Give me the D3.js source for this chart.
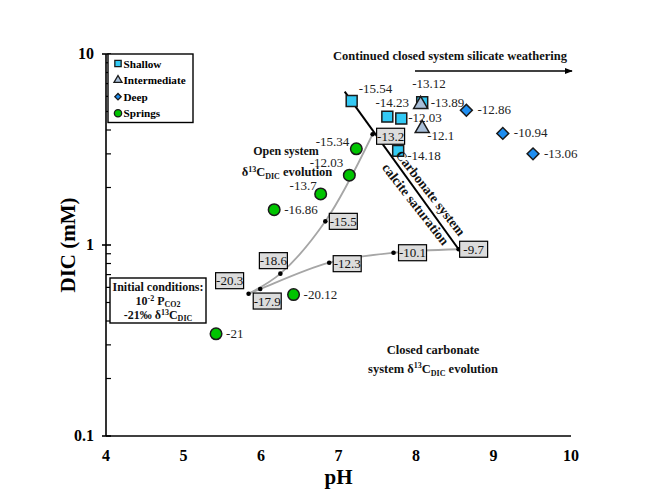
<!DOCTYPE html>
<html>
<head>
<meta charset="utf-8">
<script src="https://cdn.jsdelivr.net/npm/d3@7"></script>
<style>
  body { margin: 0; background: #fff; }
  svg { display: block; font-family: 'Liberation Serif', 'Times New Roman', serif; }
</style>
</head>
<body>
<div id="chart"></div>
<script>
const width = 646;
const height = 490;

// measured samples: pH, DIC (mM), d13C label
const shallow = [
  { ph: 7.17, dic: 5.67, label: '-15.54' },
  { ph: 7.63, dic: 4.70, label: '-14.23' },
  { ph: 7.81, dic: 4.59, label: '-12.03' },
  { ph: 8.08, dic: 5.59, label: '-13.12' },
  { ph: 7.77, dic: 3.11, label: '-14.18' },
];
const intermediate = [
  { ph: 8.06, dic: 5.45, label: '-13.89' },
  { ph: 8.08, dic: 4.08, label: '-12.1' },
];
const deep = [
  { ph: 8.65, dic: 5.07, label: '-12.86' },
  { ph: 9.12, dic: 3.84, label: '-10.94' },
  { ph: 9.51, dic: 3.0, label: '-13.06' },
];
const springs = [
  { ph: 7.23, dic: 3.19, label: '-15.34' },
  { ph: 7.14, dic: 2.32, label: '-12.03' },
  { ph: 6.77, dic: 1.85, label: '-13.7' },
  { ph: 6.17, dic: 1.53, label: '-16.86' },
  { ph: 6.42, dic: 0.55, label: '-20.12' },
  { ph: 5.42, dic: 0.343, label: '-21' },
];

// model paths
const openPath = [
  { ph: 5.84, dic: 0.556, label: '-20.3' },
  { ph: 6.25, dic: 0.708, label: '-18.6' },
  { ph: 6.83, dic: 1.33, label: '-15.5' },
  { ph: 7.44, dic: 3.80, label: '-13.2' },
];
const closedPath = [
  { ph: 5.84, dic: 0.556, label: null },
  { ph: 5.99, dic: 0.588, label: '-17.9' },
  { ph: 6.88, dic: 0.808, label: '-12.3' },
  { ph: 7.71, dic: 0.911, label: '-10.1' },
  { ph: 8.55, dic: 0.95, label: '-9.7' },
];
const calciteLine = [
  { ph: 7.08, dic: 6.35 },
  { ph: 8.55, dic: 0.95 },
];

const xTicks = [4, 5, 6, 7, 8, 9, 10];
const yTicks = [0.1, 1, 10];

// label placement (dx, dy from point, anchor)
const pointLabelPos = {
  shallow: [[7, -8, 'start'], [5, -10, 'middle'], [7, 3, 'start'], [-10, -14, 'start'], [9, 9, 'start']],
  intermediate: [[10, 3, 'start'], [5, 12, 'start']],
  deep: [[11, 4, 'start'], [11, 4, 'start'], [11, 4, 'start']],
  springs: [[-7, -3, 'end'], [-6, -8, 'end'], [-4, -4, 'end'], [10, 4, 'start'], [10, 4, 'start'], [10, 4, 'start']],
};
const boxPos = {
  '-20.3': [-19, -13], '-18.6': [-7, -13], '-15.5': [18, 0], '-13.2': [18, 2],
  '-17.9': [7, 12], '-12.3': [18, 1], '-10.1': [19, 0], '-9.7': [15, 0],
};

const x = d3.scaleLinear().domain([4, 10]).range([106, 571]);
const y = d3.scaleLog().domain([0.1, 10]).range([436, 54]);

const svg = d3.select('#chart').append('svg')
  .attr('width', width).attr('height', height);

// axes
const axisG = svg.append('g').attr('stroke', '#000').attr('stroke-width', 1.6);
axisG.append('line').attr('x1', x(4)).attr('x2', x(4)).attr('y1', y(10)).attr('y2', y(0.1));
axisG.append('line').attr('x1', x(4)).attr('x2', x(10)).attr('y1', y(0.1)).attr('y2', y(0.1));

const minor = [];
[0.1, 1].forEach((d) => { for (let k = 2; k <= 9; k++) minor.push(d * k); });
axisG.selectAll('.minor').data(minor).join('line')
  .attr('x1', x(4)).attr('x2', x(4) + 5)
  .attr('y1', (d) => y(d)).attr('y2', (d) => y(d))
  .attr('stroke-width', 1.2);
axisG.selectAll('.major').data(yTicks).join('line')
  .attr('x1', x(4) - 4).attr('x2', x(4) + 5)
  .attr('y1', (d) => y(d)).attr('y2', (d) => y(d));

svg.append('g').selectAll('text').data(yTicks).join('text')
  .attr('x', 94).attr('y', (d) => y(d) + 5)
  .attr('text-anchor', 'end').attr('font-weight', 'bold').attr('font-size', 16)
  .text((d) => d);
svg.append('g').selectAll('text').data(xTicks).join('text')
  .attr('x', (d) => x(d)).attr('y', 461)
  .attr('text-anchor', 'middle').attr('font-weight', 'bold').attr('font-size', 16)
  .text((d) => d);

svg.append('text').attr('x', x(7)).attr('y', 484)
  .attr('text-anchor', 'middle').attr('font-weight', 'bold').attr('font-size', 21).text('pH');
svg.append('text').attr('transform', `translate(75,${y(1)}) rotate(-90)`)
  .attr('text-anchor', 'middle').attr('font-weight', 'bold').attr('font-size', 21).text('DIC (mM)');

// model curves
const line = d3.line().x((d) => x(d.ph)).y((d) => y(d.dic)).curve(d3.curveCatmullRom.alpha(0.5));
svg.append('path').datum(openPath).attr('d', line)
  .attr('fill', 'none').attr('stroke', '#a6a6a6').attr('stroke-width', 1.8);
svg.append('path').datum(closedPath).attr('d', line)
  .attr('fill', 'none').attr('stroke', '#a6a6a6').attr('stroke-width', 1.8);

svg.append('line')
  .attr('x1', x(calciteLine[0].ph)).attr('y1', y(calciteLine[0].dic))
  .attr('x2', x(calciteLine[1].ph)).attr('y2', y(calciteLine[1].dic))
  .attr('stroke', '#000').attr('stroke-width', 2);

const modelPts = openPath.concat(closedPath.filter((d) => d.label));
svg.append('g').selectAll('circle').data(modelPts).join('circle')
  .attr('cx', (d) => x(d.ph)).attr('cy', (d) => y(d.dic)).attr('r', 2.3).attr('fill', '#000');

const boxes = svg.append('g').selectAll('g').data(modelPts).join('g')
  .attr('transform', (d) => `translate(${x(d.ph) + boxPos[d.label][0]},${y(d.dic) + boxPos[d.label][1]})`);
boxes.append('rect').attr('x', -14).attr('y', -8).attr('width', 28).attr('height', 16)
  .attr('fill', '#dcdcdc').attr('stroke', '#000').attr('stroke-width', 1.2);
boxes.append('text').attr('text-anchor', 'middle').attr('y', 4.5)
  .attr('font-size', 13).attr('fill', '#111').text((d) => d.label);

// markers
const sym = {
  shallow: d3.symbol().type(d3.symbolSquare).size(120),
  intermediate: d3.symbol().type(d3.symbolTriangle).size(85),
  deep: d3.symbol().type(d3.symbolSquare).size(70),
  springs: d3.symbol().type(d3.symbolCircle).size(105),
};
const rot = { shallow: 0, intermediate: 0, deep: 45, springs: 0 };
const fills = { shallow: '#33c9f4', intermediate: '#a9bfd9', deep: '#1f8ef0', springs: '#00c400' };
const groups = { shallow, intermediate, deep, springs };

['springs', 'deep', 'shallow', 'intermediate'].forEach((key) => {
  const g = svg.append('g');
  g.selectAll('path').data(groups[key]).join('path')
    .attr('d', sym[key])
    .attr('transform', (d) => `translate(${x(d.ph)},${y(d.dic)}) rotate(${rot[key]})`)
    .attr('fill', fills[key]).attr('stroke', '#1a1a1a').attr('stroke-width', 1.5);
  g.selectAll('text').data(groups[key]).join('text')
    .attr('x', (d, i) => x(d.ph) + pointLabelPos[key][i][0])
    .attr('y', (d, i) => y(d.dic) + pointLabelPos[key][i][1])
    .attr('text-anchor', (d, i) => pointLabelPos[key][i][2])
    .attr('font-size', 13).attr('fill', '#222')
    .text((d) => d.label);
});

// legend
const legendItems = [
  { key: 'shallow', name: 'Shallow' },
  { key: 'intermediate', name: 'Intermediate' },
  { key: 'deep', name: 'Deep' },
  { key: 'springs', name: 'Springs' },
];
const legend = svg.append('g');
legend.append('rect').attr('x', 108).attr('y', 54).attr('width', 85).attr('height', 68.5)
  .attr('fill', '#fff').attr('stroke', '#000').attr('stroke-width', 1.4);
const legendSym = {
  shallow: d3.symbol().type(d3.symbolSquare).size(40),
  intermediate: d3.symbol().type(d3.symbolTriangle).size(28),
  deep: d3.symbol().type(d3.symbolSquare).size(20),
  springs: d3.symbol().type(d3.symbolCircle).size(42),
};
const li = legend.selectAll('g').data(legendItems).join('g')
  .attr('transform', (d, i) => `translate(118,${63.5 + i * 16.6})`);
li.append('path').attr('d', (d) => legendSym[d.key]())
  .attr('transform', (d) => `rotate(${rot[d.key]})`)
  .attr('fill', (d) => fills[d.key]).attr('stroke', '#1a1a1a').attr('stroke-width', 1.3);
li.append('text').attr('x', 5.5).attr('y', 4).attr('font-weight', 'bold').attr('font-size', 11.2)
  .text((d) => d.name);

// annotations
const ann = svg.append('g').attr('font-weight', 'bold').attr('font-size', 12.5).attr('fill', '#111');
ann.append('text').attr('x', 450).attr('y', 60).attr('text-anchor', 'middle')
  .text('Continued closed system silicate weathering');
svg.append('defs').append('marker').attr('id', 'arr').attr('viewBox', '0 0 10 10')
  .attr('refX', 9).attr('refY', 5).attr('markerWidth', 8).attr('markerHeight', 8)
  .attr('orient', 'auto').attr('markerUnits', 'userSpaceOnUse')
  .append('path').attr('d', 'M0,1 L10,5 L0,9 Z').attr('fill', '#000');
svg.append('line').attr('x1', 415).attr('x2', 572).attr('y1', 71).attr('y2', 71)
  .attr('stroke', '#000').attr('stroke-width', 1.6).attr('marker-end', 'url(#arr)');

ann.append('text').attr('x', 286).attr('y', 155).attr('text-anchor', 'middle')
  .attr('font-size', 12).text('Open system');
const o2 = ann.append('text').attr('text-anchor', 'middle').attr('x', 287).attr('y', 176);
o2.append('tspan').text('δ');
o2.append('tspan').attr('font-size', 8).attr('dy', -4).text('13');
o2.append('tspan').attr('dy', 4).text('C');
o2.append('tspan').attr('font-size', 8).attr('dy', 3).text('DIC');
o2.append('tspan').attr('dy', -3).text(' evolution');

ann.append('text').attr('transform', 'translate(427,196) rotate(52)').attr('text-anchor', 'middle')
  .attr('font-size', 13.5).text('Carbonate system');
ann.append('text').attr('transform', 'translate(412,207) rotate(52)').attr('text-anchor', 'middle')
  .attr('font-size', 13.5).text('calcite saturation');

ann.append('text').attr('x', 433).attr('y', 354).attr('text-anchor', 'middle').text('Closed carbonate');
const c2 = ann.append('text').attr('text-anchor', 'middle').attr('x', 433).attr('y', 373);
c2.append('tspan').text('system δ');
c2.append('tspan').attr('font-size', 8).attr('dy', -5).text('13');
c2.append('tspan').attr('dy', 5).text('C');
c2.append('tspan').attr('font-size', 8).attr('dy', 3).text('DIC');
c2.append('tspan').attr('dy', -3).text(' evolution');

// initial conditions box
const ic = svg.append('g').attr('font-weight', 'bold').attr('font-size', 12).attr('fill', '#111');
ic.append('rect').attr('x', 110).attr('y', 278).attr('width', 96).attr('height', 45)
  .attr('fill', '#fff').attr('stroke', '#000').attr('stroke-width', 1.4);
ic.append('text').attr('x', 158).attr('y', 291).attr('text-anchor', 'middle').text('Initial conditions:');
const i2 = ic.append('text').attr('x', 158).attr('y', 305).attr('text-anchor', 'middle');
i2.append('tspan').text('10');
i2.append('tspan').attr('font-size', 8).attr('dy', -4).text('-2');
i2.append('tspan').attr('dy', 4).text(' P');
i2.append('tspan').attr('font-size', 8).attr('dy', 2).text('CO2');
const i3 = ic.append('text').attr('x', 158).attr('y', 319).attr('text-anchor', 'middle');
i3.append('tspan').text('-21‰ δ');
i3.append('tspan').attr('font-size', 8).attr('dy', -4).text('13');
i3.append('tspan').attr('dy', 4).text('C');
i3.append('tspan').attr('font-size', 8).attr('dy', 2).text('DIC');
</script>
</body>
</html>
